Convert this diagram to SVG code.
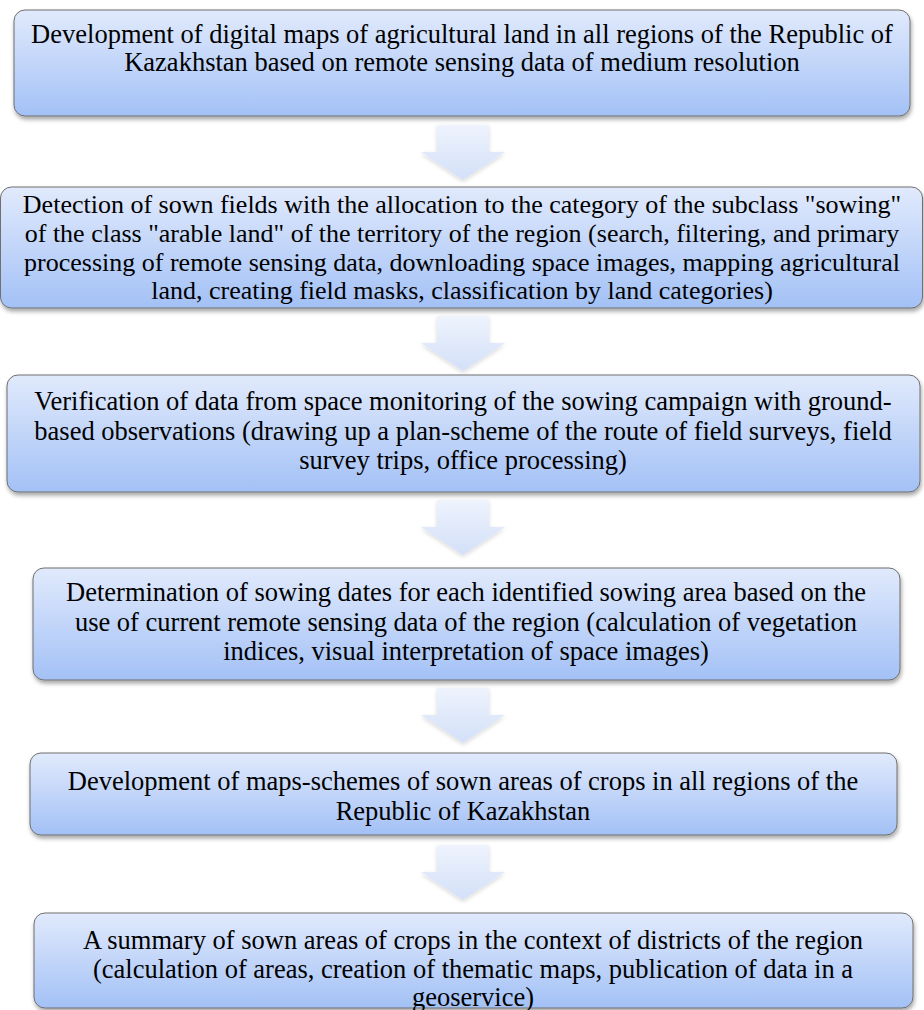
<svg xmlns="http://www.w3.org/2000/svg" width="924" height="1010" viewBox="0 0 924 1010">
<defs>
<linearGradient id="boxg" x1="0" y1="0" x2="0" y2="1">
<stop offset="0" stop-color="#e1eafc"/>
<stop offset="1" stop-color="#a3c1f6"/>
</linearGradient>
<linearGradient id="arrg" x1="0" y1="0" x2="0" y2="1">
<stop offset="0" stop-color="#eef3fd"/>
<stop offset="1" stop-color="#d3e0f8"/>
</linearGradient>
<filter id="sh" x="-5%" y="-10%" width="110%" height="130%">
<feDropShadow dx="1" dy="3" stdDeviation="2" flood-color="#000" flood-opacity="0.35"/>
</filter>
<filter id="ash" x="-20%" y="-20%" width="140%" height="140%">
<feDropShadow dx="0" dy="2" stdDeviation="2" flood-color="#000" flood-opacity="0.15"/>
</filter>
<path id="arr" d="M-26,0 L26,0 L26,27 L42,27 L0,55 L-42,27 L-26,27 Z"/>
</defs>
<style>
.box{fill:url(#boxg);stroke:#6f6f6f;stroke-width:1;filter:url(#sh)}
.t{font-family:"Liberation Serif","Times New Roman",serif;font-size:26.5px;fill:#000;text-anchor:middle}
.s{font-size:26px}
.a{fill:url(#arrg);filter:url(#ash)}
</style>
<g id="connectors">
<use href="#arr" class="a" transform="translate(463,125)"/>
<use href="#arr" class="a" transform="translate(463,316)"/>
<use href="#arr" class="a" transform="translate(463,500)"/>
<use href="#arr" class="a" transform="translate(463,688)"/>
<use href="#arr" class="a" transform="translate(463,845)"/>
</g>
<g id="n1">
<rect class="box" x="14" y="10" width="896" height="106" rx="11"/>
<text class="t" x="462" y="43">Development of digital maps of agricultural land in all regions of the Republic of</text>
<text class="t" x="462" y="71">Kazakhstan based on remote sensing data of medium resolution</text>
</g>
<g id="n2">
<rect class="box" x="0.5" y="187" width="922" height="121" rx="11"/>
<text class="t s" x="462" y="213">Detection of sown fields with the allocation to the category of the subclass "sowing"</text>
<text class="t s" x="462" y="241.8">of the class "arable land" of the territory of the region (search, filtering, and primary</text>
<text class="t s" x="462" y="270.6">processing of remote sensing data, downloading space images, mapping agricultural</text>
<text class="t s" x="462" y="299.4">land, creating field masks, classification by land categories)</text>
</g>
<g id="n3">
<rect class="box" x="7" y="375" width="913" height="117" rx="11"/>
<text class="t" x="463" y="410">Verification of data from space monitoring of the sowing campaign with ground-</text>
<text class="t" x="463" y="439.5">based observations (drawing up a plan-scheme of the route of field surveys, field</text>
<text class="t" x="463" y="469">survey trips, office processing)</text>
</g>
<g id="n4">
<rect class="box" x="33" y="568" width="867" height="112" rx="11"/>
<text class="t" x="466" y="601">Determination of sowing dates for each identified sowing area based on the</text>
<text class="t" x="466" y="630.5">use of current remote sensing data of the region (calculation of vegetation</text>
<text class="t" x="466" y="660">indices, visual interpretation of space images)</text>
</g>
<g id="n5">
<rect class="box" x="30" y="753" width="867" height="82" rx="11"/>
<text class="t" x="463" y="790">Development of maps-schemes of sown areas of crops in all regions of the</text>
<text class="t" x="463" y="820">Republic of Kazakhstan</text>
</g>
<g id="n6">
<rect class="box" x="34" y="913" width="879" height="95" rx="11"/>
<text class="t" x="473" y="948.5">A summary of sown areas of crops in the context of districts of the region</text>
<text class="t" x="473" y="978">(calculation of areas, creation of thematic maps, publication of data in a</text>
<text class="t" x="473" y="1006">geoservice)</text>
</g>
</svg>
